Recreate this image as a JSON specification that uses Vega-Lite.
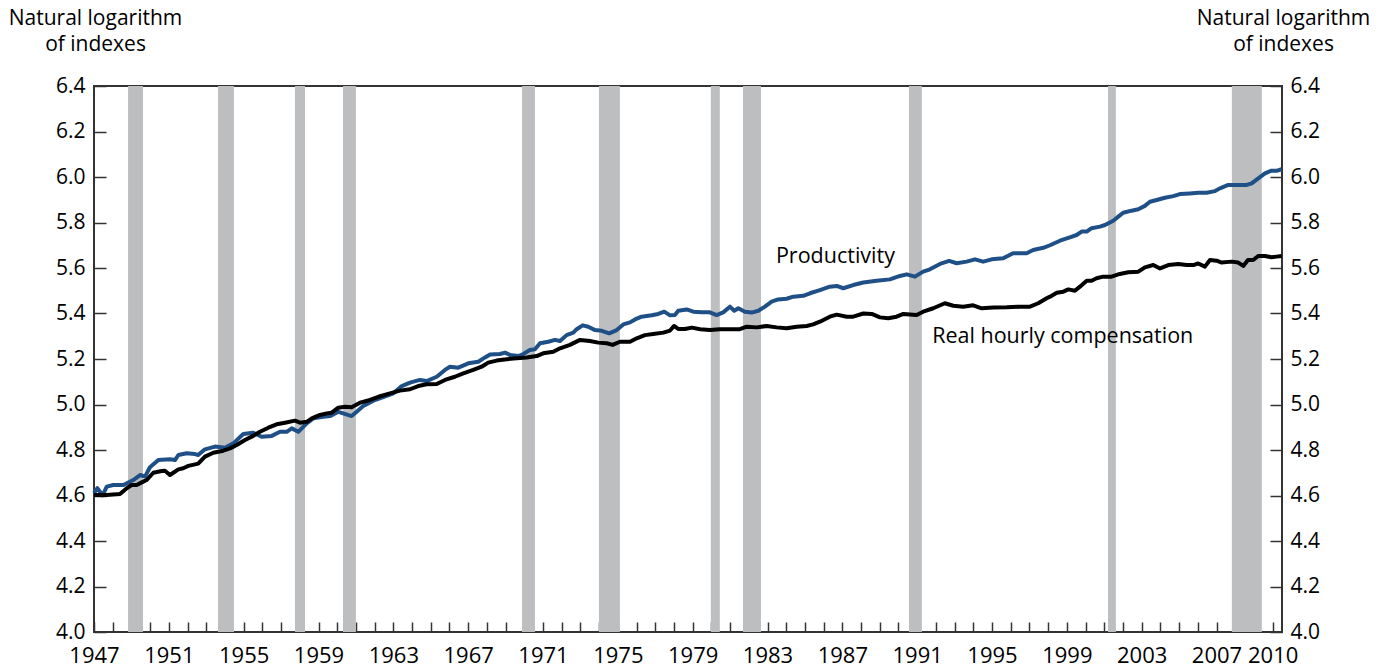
{
  "$schema": "https://vega.github.io/schema/vega-lite/v6.json",
  "width": 1188,
  "height": 546,
  "autosize": {"type": "none"},
  "padding": {"left": 94, "top": 86, "right": 106, "bottom": 37},
  "background": "white",
  "config": {
    "font": "Open Sans",
    "view": {"stroke": "#333333", "strokeWidth": 2},
    "axis": {
      "grid": false,
      "zindex": 1,
      "domain": false,
      "tickColor": "#333333",
      "tickWidth": 1.5,
      "labelFont": "Open Sans",
      "labelFontSize": 21,
      "labelColor": "#000000",
      "titleFont": "Open Sans",
      "titleFontSize": 21,
      "titleFontWeight": "normal",
      "titleColor": "#000000"
    }
  },
  "datasets": {
    "recessions": [
      {"start": 1948.82, "end": 1949.62},
      {"start": 1953.63, "end": 1954.48},
      {"start": 1957.74, "end": 1958.28},
      {"start": 1960.31, "end": 1961.0},
      {"start": 1969.88, "end": 1970.57},
      {"start": 1973.99, "end": 1975.11},
      {"start": 1979.97, "end": 1980.45},
      {"start": 1981.69, "end": 1982.65},
      {"start": 1990.56, "end": 1991.25},
      {"start": 2001.2, "end": 2001.62},
      {"start": 2007.82, "end": 2009.42}
    ],
    "productivity": [
      {"year": 1947.0, "value": 4.61}, {"year": 1947.18, "value": 4.632}, {"year": 1947.46, "value": 4.6}, {"year": 1947.68, "value": 4.639},
      {"year": 1948.03, "value": 4.646}, {"year": 1948.57, "value": 4.646}, {"year": 1949.1, "value": 4.668}, {"year": 1949.46, "value": 4.69},
      {"year": 1949.73, "value": 4.683}, {"year": 1949.99, "value": 4.724}, {"year": 1950.44, "value": 4.756}, {"year": 1951.06, "value": 4.759},
      {"year": 1951.33, "value": 4.756}, {"year": 1951.51, "value": 4.778}, {"year": 1951.95, "value": 4.786}, {"year": 1952.4, "value": 4.782},
      {"year": 1952.57, "value": 4.778}, {"year": 1952.93, "value": 4.803}, {"year": 1953.47, "value": 4.815}, {"year": 1954.0, "value": 4.81},
      {"year": 1954.45, "value": 4.829}, {"year": 1954.98, "value": 4.87}, {"year": 1955.51, "value": 4.876}, {"year": 1955.96, "value": 4.858},
      {"year": 1956.5, "value": 4.862}, {"year": 1956.94, "value": 4.88}, {"year": 1957.3, "value": 4.88}, {"year": 1957.57, "value": 4.895},
      {"year": 1957.92, "value": 4.88}, {"year": 1958.37, "value": 4.917}, {"year": 1958.72, "value": 4.939}, {"year": 1959.26, "value": 4.946},
      {"year": 1959.61, "value": 4.949}, {"year": 1960.06, "value": 4.968}, {"year": 1960.32, "value": 4.961}, {"year": 1960.77, "value": 4.949},
      {"year": 1961.04, "value": 4.968}, {"year": 1961.39, "value": 4.993}, {"year": 1961.93, "value": 5.017}, {"year": 1962.46, "value": 5.032},
      {"year": 1963.0, "value": 5.049}, {"year": 1963.45, "value": 5.081}, {"year": 1963.89, "value": 5.096}, {"year": 1964.42, "value": 5.108},
      {"year": 1964.78, "value": 5.103}, {"year": 1965.32, "value": 5.122}, {"year": 1965.76, "value": 5.152}, {"year": 1966.03, "value": 5.166},
      {"year": 1966.47, "value": 5.162}, {"year": 1967.01, "value": 5.181}, {"year": 1967.54, "value": 5.188}, {"year": 1967.9, "value": 5.207},
      {"year": 1968.17, "value": 5.22}, {"year": 1968.7, "value": 5.222}, {"year": 1968.97, "value": 5.228}, {"year": 1969.23, "value": 5.218},
      {"year": 1969.68, "value": 5.213}, {"year": 1969.95, "value": 5.222}, {"year": 1970.3, "value": 5.24}, {"year": 1970.57, "value": 5.243},
      {"year": 1970.84, "value": 5.269}, {"year": 1971.28, "value": 5.276}, {"year": 1971.64, "value": 5.284}, {"year": 1971.91, "value": 5.279},
      {"year": 1972.26, "value": 5.305}, {"year": 1972.62, "value": 5.316}, {"year": 1972.8, "value": 5.331}, {"year": 1973.12, "value": 5.348},
      {"year": 1973.42, "value": 5.342}, {"year": 1973.78, "value": 5.327}, {"year": 1974.14, "value": 5.324}, {"year": 1974.54, "value": 5.313},
      {"year": 1974.94, "value": 5.327}, {"year": 1975.29, "value": 5.352}, {"year": 1975.65, "value": 5.361}, {"year": 1975.92, "value": 5.374},
      {"year": 1976.27, "value": 5.386}, {"year": 1976.81, "value": 5.392}, {"year": 1977.16, "value": 5.398}, {"year": 1977.48, "value": 5.408},
      {"year": 1977.79, "value": 5.392}, {"year": 1978.05, "value": 5.393}, {"year": 1978.23, "value": 5.412}, {"year": 1978.68, "value": 5.418},
      {"year": 1979.03, "value": 5.408}, {"year": 1979.48, "value": 5.405}, {"year": 1979.92, "value": 5.405}, {"year": 1980.28, "value": 5.393},
      {"year": 1980.63, "value": 5.405}, {"year": 1980.99, "value": 5.43}, {"year": 1981.22, "value": 5.412}, {"year": 1981.44, "value": 5.423},
      {"year": 1981.79, "value": 5.408}, {"year": 1982.15, "value": 5.404}, {"year": 1982.51, "value": 5.412}, {"year": 1982.86, "value": 5.43},
      {"year": 1983.22, "value": 5.452}, {"year": 1983.57, "value": 5.462}, {"year": 1984.02, "value": 5.465}, {"year": 1984.38, "value": 5.474},
      {"year": 1984.91, "value": 5.478}, {"year": 1985.27, "value": 5.489}, {"year": 1985.8, "value": 5.503}, {"year": 1986.33, "value": 5.518},
      {"year": 1986.7, "value": 5.521}, {"year": 1987.05, "value": 5.511}, {"year": 1987.58, "value": 5.525}, {"year": 1988.12, "value": 5.536},
      {"year": 1988.83, "value": 5.544}, {"year": 1989.54, "value": 5.55}, {"year": 1990.08, "value": 5.565}, {"year": 1990.44, "value": 5.572},
      {"year": 1990.88, "value": 5.562}, {"year": 1991.32, "value": 5.584}, {"year": 1991.68, "value": 5.594}, {"year": 1992.22, "value": 5.618},
      {"year": 1992.71, "value": 5.631}, {"year": 1993.11, "value": 5.621}, {"year": 1993.64, "value": 5.628}, {"year": 1994.09, "value": 5.638},
      {"year": 1994.53, "value": 5.628}, {"year": 1994.98, "value": 5.638}, {"year": 1995.6, "value": 5.643}, {"year": 1996.13, "value": 5.665},
      {"year": 1996.85, "value": 5.665}, {"year": 1997.2, "value": 5.679}, {"year": 1997.74, "value": 5.689}, {"year": 1998.1, "value": 5.7},
      {"year": 1998.63, "value": 5.72}, {"year": 1999.16, "value": 5.735}, {"year": 1999.52, "value": 5.745}, {"year": 1999.79, "value": 5.76},
      {"year": 2000.06, "value": 5.76}, {"year": 2000.32, "value": 5.775}, {"year": 2000.77, "value": 5.782}, {"year": 2001.04, "value": 5.789},
      {"year": 2001.48, "value": 5.808}, {"year": 2001.75, "value": 5.826}, {"year": 2002.01, "value": 5.843}, {"year": 2002.46, "value": 5.852},
      {"year": 2002.82, "value": 5.858}, {"year": 2003.17, "value": 5.873}, {"year": 2003.44, "value": 5.891}, {"year": 2003.8, "value": 5.899},
      {"year": 2004.24, "value": 5.909}, {"year": 2004.69, "value": 5.916}, {"year": 2005.04, "value": 5.925}, {"year": 2005.58, "value": 5.928},
      {"year": 2006.02, "value": 5.931}, {"year": 2006.47, "value": 5.931}, {"year": 2006.92, "value": 5.938}, {"year": 2007.18, "value": 5.95},
      {"year": 2007.63, "value": 5.965}, {"year": 2008.07, "value": 5.965}, {"year": 2008.61, "value": 5.965}, {"year": 2008.88, "value": 5.972},
      {"year": 2009.23, "value": 5.994}, {"year": 2009.59, "value": 6.016}, {"year": 2009.94, "value": 6.028}, {"year": 2010.21, "value": 6.027},
      {"year": 2010.48, "value": 6.034}
    ],
    "compensation": [
      {"year": 1947.0, "value": 4.602}, {"year": 1947.68, "value": 4.602}, {"year": 1948.39, "value": 4.607}, {"year": 1948.75, "value": 4.632},
      {"year": 1949.01, "value": 4.646}, {"year": 1949.28, "value": 4.646}, {"year": 1949.63, "value": 4.661}, {"year": 1949.82, "value": 4.668},
      {"year": 1950.17, "value": 4.7}, {"year": 1950.62, "value": 4.708}, {"year": 1950.79, "value": 4.709}, {"year": 1951.06, "value": 4.69},
      {"year": 1951.51, "value": 4.715}, {"year": 1951.77, "value": 4.72}, {"year": 1952.04, "value": 4.73}, {"year": 1952.4, "value": 4.737},
      {"year": 1952.57, "value": 4.74}, {"year": 1952.93, "value": 4.771}, {"year": 1953.38, "value": 4.788}, {"year": 1953.91, "value": 4.797},
      {"year": 1954.27, "value": 4.807}, {"year": 1954.63, "value": 4.822}, {"year": 1955.07, "value": 4.844}, {"year": 1955.51, "value": 4.862},
      {"year": 1955.87, "value": 4.88}, {"year": 1956.32, "value": 4.898}, {"year": 1956.76, "value": 4.913}, {"year": 1957.21, "value": 4.92},
      {"year": 1957.74, "value": 4.929}, {"year": 1958.01, "value": 4.92}, {"year": 1958.37, "value": 4.924}, {"year": 1958.64, "value": 4.939},
      {"year": 1959.08, "value": 4.954}, {"year": 1959.44, "value": 4.961}, {"year": 1959.7, "value": 4.964}, {"year": 1960.06, "value": 4.986},
      {"year": 1960.42, "value": 4.99}, {"year": 1960.77, "value": 4.988}, {"year": 1961.22, "value": 5.008}, {"year": 1961.75, "value": 5.02},
      {"year": 1962.2, "value": 5.034}, {"year": 1962.82, "value": 5.049}, {"year": 1963.35, "value": 5.061}, {"year": 1963.89, "value": 5.067},
      {"year": 1964.33, "value": 5.081}, {"year": 1964.78, "value": 5.089}, {"year": 1965.32, "value": 5.09}, {"year": 1965.76, "value": 5.108},
      {"year": 1966.29, "value": 5.122}, {"year": 1966.74, "value": 5.137}, {"year": 1967.27, "value": 5.152}, {"year": 1967.72, "value": 5.166},
      {"year": 1968.07, "value": 5.184}, {"year": 1968.52, "value": 5.193}, {"year": 1969.06, "value": 5.199}, {"year": 1969.59, "value": 5.203},
      {"year": 1970.13, "value": 5.207}, {"year": 1970.66, "value": 5.213}, {"year": 1971.01, "value": 5.225}, {"year": 1971.55, "value": 5.232},
      {"year": 1971.91, "value": 5.247}, {"year": 1972.44, "value": 5.262}, {"year": 1972.98, "value": 5.284}, {"year": 1973.51, "value": 5.279},
      {"year": 1973.95, "value": 5.272}, {"year": 1974.4, "value": 5.269}, {"year": 1974.72, "value": 5.262}, {"year": 1975.11, "value": 5.276},
      {"year": 1975.65, "value": 5.276}, {"year": 1976.01, "value": 5.291}, {"year": 1976.45, "value": 5.305}, {"year": 1976.89, "value": 5.31},
      {"year": 1977.43, "value": 5.316}, {"year": 1977.79, "value": 5.325}, {"year": 1978.0, "value": 5.345}, {"year": 1978.23, "value": 5.332},
      {"year": 1978.59, "value": 5.332}, {"year": 1978.95, "value": 5.338}, {"year": 1979.4, "value": 5.331}, {"year": 1979.92, "value": 5.327},
      {"year": 1980.45, "value": 5.331}, {"year": 1980.99, "value": 5.331}, {"year": 1981.52, "value": 5.331}, {"year": 1981.89, "value": 5.342},
      {"year": 1982.42, "value": 5.339}, {"year": 1982.95, "value": 5.345}, {"year": 1983.49, "value": 5.339}, {"year": 1984.02, "value": 5.335},
      {"year": 1984.56, "value": 5.342}, {"year": 1985.09, "value": 5.345}, {"year": 1985.44, "value": 5.352}, {"year": 1985.8, "value": 5.364},
      {"year": 1986.33, "value": 5.386}, {"year": 1986.7, "value": 5.395}, {"year": 1987.23, "value": 5.386}, {"year": 1987.58, "value": 5.386},
      {"year": 1988.12, "value": 5.4}, {"year": 1988.57, "value": 5.398}, {"year": 1989.01, "value": 5.383}, {"year": 1989.45, "value": 5.379},
      {"year": 1989.9, "value": 5.386}, {"year": 1990.26, "value": 5.398}, {"year": 1990.61, "value": 5.396}, {"year": 1990.97, "value": 5.393},
      {"year": 1991.32, "value": 5.408}, {"year": 1991.86, "value": 5.423}, {"year": 1992.48, "value": 5.445}, {"year": 1992.93, "value": 5.434},
      {"year": 1993.46, "value": 5.43}, {"year": 1993.99, "value": 5.436}, {"year": 1994.45, "value": 5.423}, {"year": 1995.07, "value": 5.426},
      {"year": 1995.78, "value": 5.427}, {"year": 1996.49, "value": 5.43}, {"year": 1997.03, "value": 5.43}, {"year": 1997.47, "value": 5.445},
      {"year": 1997.92, "value": 5.467}, {"year": 1998.1, "value": 5.474}, {"year": 1998.46, "value": 5.491}, {"year": 1998.81, "value": 5.496},
      {"year": 1999.08, "value": 5.506}, {"year": 1999.43, "value": 5.5}, {"year": 1999.7, "value": 5.518}, {"year": 2000.06, "value": 5.544},
      {"year": 2000.32, "value": 5.544}, {"year": 2000.59, "value": 5.555}, {"year": 2000.94, "value": 5.562}, {"year": 2001.39, "value": 5.562},
      {"year": 2001.83, "value": 5.574}, {"year": 2002.28, "value": 5.581}, {"year": 2002.82, "value": 5.584}, {"year": 2003.17, "value": 5.603},
      {"year": 2003.62, "value": 5.613}, {"year": 2003.98, "value": 5.598}, {"year": 2004.42, "value": 5.613}, {"year": 2004.96, "value": 5.618},
      {"year": 2005.41, "value": 5.613}, {"year": 2005.76, "value": 5.613}, {"year": 2006.02, "value": 5.62}, {"year": 2006.38, "value": 5.606},
      {"year": 2006.65, "value": 5.635}, {"year": 2007.01, "value": 5.632}, {"year": 2007.27, "value": 5.624}, {"year": 2007.81, "value": 5.628},
      {"year": 2008.16, "value": 5.624}, {"year": 2008.43, "value": 5.609}, {"year": 2008.68, "value": 5.635}, {"year": 2008.96, "value": 5.635},
      {"year": 2009.23, "value": 5.653}, {"year": 2009.59, "value": 5.653}, {"year": 2009.94, "value": 5.647}, {"year": 2010.21, "value": 5.65},
      {"year": 2010.48, "value": 5.653}
    ],
    "labels": [
      {"year": 1983.45, "value": 5.621, "label": "Productivity"},
      {"year": 1991.8, "value": 5.272, "label": "Real hourly compensation"}
    ]
  },
  "layer": [
    {
      "data": {"name": "recessions"},
      "mark": {"type": "rect", "color": "#bcbec0"},
      "encoding": {
        "x": {
          "field": "start", "type": "quantitative", "title": null,
          "scale": {"domain": [1947, 2010.5], "nice": false, "zero": false},
          "axis": {
            "orient": "bottom",
            "title": null,
            "offset": -10,
            "tickSize": 10,
            "tickCount": 100,
            "labelPadding": 13,
            "labelFontSize": 22,
            "values": [1947,1948,1949,1950,1951,1952,1953,1954,1955,1956,1957,1958,1959,1960,1961,1962,1963,1964,1965,1966,1967,1968,1969,1970,1971,1972,1973,1974,1975,1976,1977,1978,1979,1980,1981,1982,1983,1984,1985,1986,1987,1988,1989,1990,1991,1992,1993,1994,1995,1996,1997,1998,1999,2000,2001,2002,2003,2004,2005,2006,2007,2008,2009,2010],
            "labelExpr": "(datum.value == 1947 || datum.value == 1951 || datum.value == 1955 || datum.value == 1959 || datum.value == 1963 || datum.value == 1967 || datum.value == 1971 || datum.value == 1975 || datum.value == 1979 || datum.value == 1983 || datum.value == 1987 || datum.value == 1991 || datum.value == 1995 || datum.value == 1999 || datum.value == 2003 || datum.value == 2007 || datum.value == 2010) ? format(datum.value, 'd') : ''",
            "labelOverlap": false,
            "labelFlush": false,
            "labelBound": false
          }
        },
        "x2": {"field": "end"}
      }
    },
    {
      "data": {"name": "productivity"},
      "mark": {"type": "line", "color": "#1e5087", "strokeWidth": 4, "strokeJoin": "round"},
      "encoding": {
        "x": {"field": "year", "type": "quantitative", "title": null},
        "y": {
          "field": "value", "type": "quantitative",
          "scale": {"domain": [4.0, 6.4], "nice": false, "zero": false},
          "axis": {
            "orient": "left",
            "offset": -12,
            "tickSize": 12,
            "tickCount": 20,
            "labelPadding": 9,
            "values": [4.0,4.2,4.4,4.6,4.8,5.0,5.2,5.4,5.6,5.8,6.0,6.2,6.4],
            "format": ".1f",
            "labelOverlap": false,
            "labelFlush": false,
            "title": ["Natural logarithm", "of indexes"],
            "titleAngle": 0,
            "titleAlign": "center",
            "titleBaseline": "top",
            "titleLineHeight": 26,
            "titleX": -11,
            "titleY": -79
          }
        }
      }
    },
    {
      "data": {"name": "compensation"},
      "mark": {"type": "line", "color": "#000000", "strokeWidth": 4, "strokeJoin": "round"},
      "encoding": {
        "x": {"field": "year", "type": "quantitative", "title": null},
        "y": {"field": "value", "type": "quantitative", "axis": null}
      }
    },
    {
      "data": {"name": "labels"},
      "mark": {"type": "text", "align": "left", "baseline": "alphabetic", "font": "Open Sans", "fontSize": 21.5, "color": "#000000"},
      "encoding": {
        "x": {"field": "year", "type": "quantitative", "title": null},
        "y": {
          "field": "value", "type": "quantitative",
          "axis": {
            "orient": "right",
            "offset": -12,
            "tickSize": 12,
            "tickCount": 20,
            "labelPadding": 8,
            "values": [4.0,4.2,4.4,4.6,4.8,5.0,5.2,5.4,5.6,5.8,6.0,6.2,6.4],
            "format": ".1f",
            "labelOverlap": false,
            "labelFlush": false,
            "title": ["Natural logarithm", "of indexes"],
            "titleAngle": 0,
            "titleAlign": "center",
            "titleBaseline": "top",
            "titleLineHeight": 26,
            "titleX": 13,
            "titleY": -79
          }
        },
        "text": {"field": "label", "type": "nominal"}
      }
    }
  ]
}
